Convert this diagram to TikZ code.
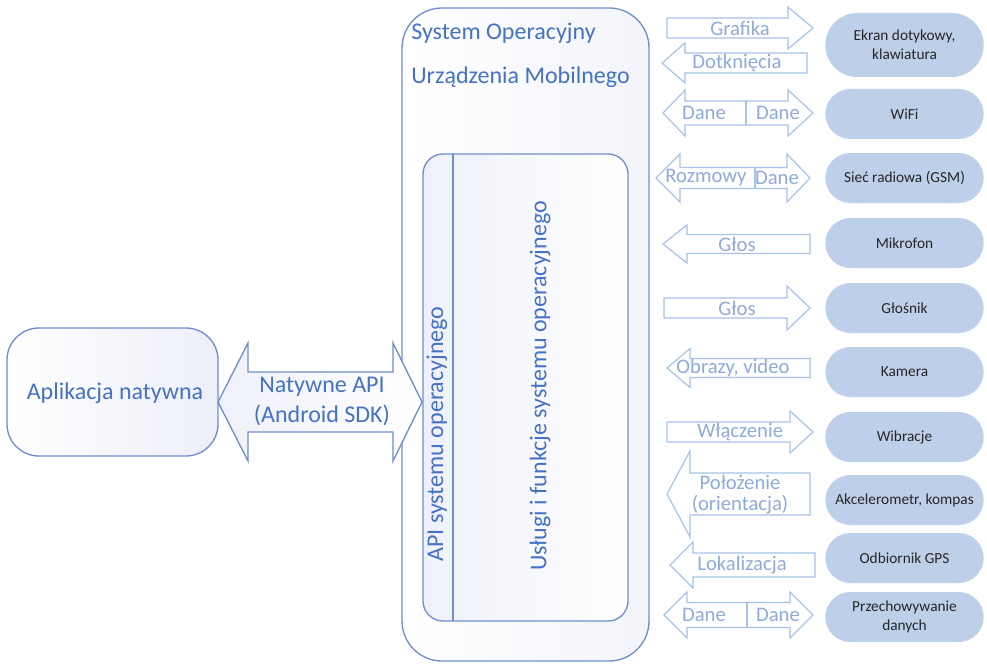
\documentclass[tikz,border=0pt]{standalone}
\usepackage{fontspec}
\setmainfont{Carlito}
\usetikzlibrary{shapes.misc}
\definecolor{bluetext}{HTML}{4472C4}
\definecolor{boxline}{HTML}{6F8FCC}
\definecolor{arrowline}{HTML}{A7C3E8}
\definecolor{arrowtext}{HTML}{8FAADC}
\definecolor{pillfill}{HTML}{BDCFE9}
\definecolor{lavender}{HTML}{E8EAF7}
\tikzset{
  bigbox/.style={draw=boxline, line width=1pt},
  sarrow/.style={draw=arrowline, line width=0.9pt, fill=white},
  alabel/.style={text=arrowtext, font=\fontsize{15.5}{17}\selectfont, inner sep=0pt, align=center},
  bigtext/.style={text=bluetext, font=\fontsize{18}{20}\selectfont, inner sep=0pt, align=center},
  pill/.style={shape=rounded rectangle, fill=pillfill, draw=none, minimum width=120.75pt,
    minimum height=37.5pt, align=center, inner sep=1pt, font=\fontsize{11.5}{14}\selectfont, text=black!85},
}
\newcommand{\ArrR}[6]{\draw[sarrow] (#1,#4-#5) -- (#2,#4-#5) -- (#2,#4-#6) -- (#3,#4) -- (#2,#4+#6) -- (#2,#4+#5) -- (#1,#4+#5) -- cycle;}
\newcommand{\ArrL}[6]{\draw[sarrow] (#3,#4-#5) -- (#2,#4-#5) -- (#2,#4-#6) -- (#1,#4) -- (#2,#4+#6) -- (#2,#4+#5) -- (#3,#4+#5) -- cycle;}
\newcommand{\ArrD}[8]{\draw[sarrow] (#1,#5) -- (#2,#5-#7) -- (#2,#5-#6) -- (#3,#5-#6) -- (#3,#5-#7) -- (#4,#5) -- (#3,#5+#7) -- (#3,#5+#6) -- (#2,#5+#6) -- (#2,#5+#7) -- cycle;
  \draw[sarrow] (#8,#5-#6) -- (#8,#5+#6);}
\begin{document}
\begin{tikzpicture}[x=0.75pt,y=-0.75pt]
\useasboundingbox (0,0) rectangle (987,663);
% OS outer box
\path[bigbox, rounded corners=30pt, left color=white, right color=lavender!50] (402,8) rectangle (649,661);
\node[bigtext, anchor=west] (ostitle1) at (411,33) {System Operacyjny};
\node[bigtext, anchor=west] (ostitle2) at (411,77) {Urządzenia Mobilnego};
% inner box
\path[bigbox, rounded corners=15pt, left color=lavender!70, right color=white] (423,154) rectangle (628,621);
\draw[boxline, line width=1pt] (453,154) -- (453,621);
\node[bigtext, rotate=90] (api) at (437,434) {API systemu operacyjnego};
\node[bigtext, rotate=90] (uslugi) at (540,386) {Usługi i funkcje systemu operacyjnego};
% left app node
\path[bigbox, rounded corners=24pt, left color=white, right color=lavender!80] (7,328) rectangle (218,456);
\node[bigtext] (app) at (115,393) {Aplikacja natywna};
% big double arrow
\path[bigbox, left color=lavender!70, right color=white] (218,402) -- (248,343) -- (248,372) -- (393,372) -- (393,343) -- (422,402) -- (393,461) -- (393,432) -- (248,432) -- (248,461) -- cycle;
\node[bigtext] (napi) at (322,387) {Natywne API};
\node[bigtext] (sdk) at (322,415) {(Android SDK)};
% small arrows
\ArrR{667}{788}{813}{28}{10}{21}
\node[alabel] (l1) at (740,28) {Grafika};
\ArrL{662}{685}{807}{63}{10}{20}
\node[alabel] (l2) at (737,63) {Dotknięcia};
\ArrD{663}{685}{788}{813}{113}{12}{23}{746}
\node[alabel] (l3a) at (704,113) {Dane};
\node[alabel] (l3b) at (778,113) {Dane};
\ArrD{656}{680}{787}{810}{178}{10.5}{24}{755}
\node[alabel] (l4a) at (706,178) {Rozmowy};
\node[alabel] (l4b) at (777,178) {Dane};
\ArrL{663}{687}{810}{244}{9.5}{19}
\node[alabel] (l5) at (737,244) {Głos};
\ArrR{664}{787}{810}{308}{10}{22}
\node[alabel] (l6) at (737,308) {Głos};
\ArrL{667}{690}{810}{368}{9.5}{19.5}
\node[alabel] (l7) at (733,368) {Obrazy, video};
\ArrR{667}{790}{813}{432}{10}{21}
\node[alabel] (l8) at (740,432) {Włączenie};
\ArrL{667}{690}{810}{494}{21}{43}
\node[alabel] (l9a) at (740,482) {Położenie};
\node[alabel] (l9b) at (740,505) {(orientacja)};
\ArrL{670}{693}{815}{565}{12}{23}
\node[alabel] (l10) at (742,565) {Lokalizacja};
\ArrD{664}{687}{790}{813}{615}{12.5}{23}{747}
\node[alabel] (l11a) at (704,615) {Dane};
\node[alabel] (l11b) at (778,615) {Dane};
% pills
\node[pill, minimum height=48pt] (ekran) at (904.5,45) {Ekran dotykowy,\\klawiatura};
\node[pill] (wifi) at (904.5,114) {WiFi};
\node[pill] (gsm) at (904.5,178) {Sieć radiowa (GSM)};
\node[pill] (mik) at (904.5,243) {Mikrofon};
\node[pill] (glos) at (904.5,308) {Głośnik};
\node[pill] (kam) at (904.5,372) {Kamera};
\node[pill] (wib) at (904.5,437) {Wibracje};
\node[pill] (akc) at (904.5,500) {Akcelerometr, kompas};
\node[pill] (gps) at (904.5,558) {Odbiornik GPS};
\node[pill] (mem) at (904.5,617) {Przechowywanie\\danych};
\end{tikzpicture}
\end{document}
